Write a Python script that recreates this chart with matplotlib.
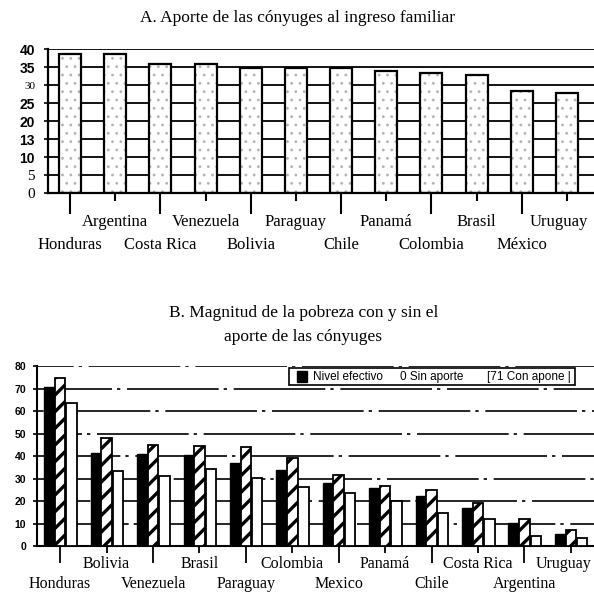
import numpy as np
import matplotlib.pyplot as plt
import matplotlib.transforms as mtransforms
from matplotlib.patches import Rectangle

# A. Aporte de las conyuges al ingreso familiar (%)
paises_a = ['Honduras', 'Argentina', 'Costa Rica', 'Venezuela', 'Bolivia', 'Paraguay',
            'Chile', 'Panamá', 'Colombia', 'Brasil', 'México', 'Uruguay']
aporte = [38.6, 38.6, 35.8, 35.8, 34.7, 34.8, 34.8, 34.0, 33.5, 32.7, 28.3, 27.9]
yticks_a = ['0', '5', '10', '13', '20', '25', '30', '35', '40']

# B. Magnitud de la pobreza con y sin el aporte de las conyuges
paises_b = ['Honduras', 'Bolivia', 'Venezuela', 'Brasil', 'Paraguay', 'Colombia',
            'Mexico', 'Panamá', 'Chile', 'Costa Rica', 'Argentina', 'Uruguay']
nivel_efectivo = [70.7, 41.3, 40.9, 40.4, 37.0, 33.8, 28.1, 25.6, 22.2, 17.0, 10.1, 5.2]
rayada = [74.7, 48.0, 44.9, 44.4, 43.9, 39.0, 31.6, 26.7, 24.9, 19.3, 12.0, 7.1]
blanca = [63.6, 33.5, 31.3, 34.2, 30.1, 26.4, 23.4, 20.0, 14.8, 12.0, 4.6, 3.4]
leyenda = ['Nivel efectivo', '0 Sin aporte', '[71 Con apone |']

serif = 'Liberation Serif'
sans = 'Liberation Sans'

fig = plt.figure(figsize=(5.94, 5.92), dpi=100)


def shift_left(label, pts):
    # the scan puts the last label a little left of its tick
    label.set_transform(label.get_transform() +
                        mtransforms.ScaledTranslation(-pts / 72, 0, fig.dpi_scale_trans))


# ---------------- chart A ----------------
axA = fig.add_axes([0.080, 0.674, 0.92, 0.243])
xa = np.arange(len(paises_a))
with plt.rc_context({'hatch.linewidth': 0.8}):
    axA.bar(xa, aporte, 0.49, color='white', edgecolor='0.7', hatch='..',
            linewidth=0, zorder=2)
axA.bar(xa, aporte, 0.49, fill=False, edgecolor='black', linewidth=1.6, zorder=3)
for y in range(5, 41, 5):
    axA.axhline(y, color='black', lw=1.3, zorder=1)
axA.set_xlim(-0.5, 11.6)
axA.set_ylim(0, 40)
axA.set_yticks(range(0, 41, 5))
axA.set_yticklabels(yticks_a)
for lab in axA.get_yticklabels():
    if lab.get_text() in ('0', '5', '30'):
        lab.set_fontfamily(serif)
        lab.set_fontsize(11 if lab.get_text() != '30' else 8)
    else:
        lab.set_fontfamily(sans)
        lab.set_fontweight('bold')
        lab.set_fontsize(10)
axA.tick_params(axis='y', length=3, width=1.2, pad=6)

axA.set_xticks(xa[::2])
axA.set_xticklabels(paises_a[::2], fontfamily=serif, fontsize=12)
axA.set_xticks(xa[1::2], minor=True)
axA.set_xticklabels(paises_a[1::2], minor=True, fontfamily=serif, fontsize=12)
axA.tick_params(axis='x', which='major', length=15, width=1.5, pad=17)
axA.tick_params(axis='x', which='minor', length=6, width=1.5, pad=9)
shift_left(axA.get_xticklabels(minor=True)[-1], 6)
for s in ['top', 'right']:
    axA.spines[s].set_visible(False)
for s in ['left', 'bottom']:
    axA.spines[s].set_linewidth(1.6)

fig.text(0.5, 0.970, 'A. Aporte de las cónyuges al ingreso familiar',
         ha='center', va='center', fontfamily=serif, fontsize=12.5)

# ---------------- chart B ----------------
axB = fig.add_axes([0.0623, 0.0777, 0.9377, 0.304])
xb = np.arange(len(paises_b))
w = 0.225
axB.bar(xb - 0.23, nivel_efectivo, w, color='black', edgecolor='black', lw=1, zorder=3)
with plt.rc_context({'hatch.linewidth': 2.4}):
    axB.bar(xb, rayada, w, color='white', edgecolor='black', hatch='//', lw=1.3, zorder=3)
axB.bar(xb + 0.245, blanca, w, color='white', edgecolor='black', lw=1.3, zorder=3)
for i, y in enumerate(range(10, 81, 10)):
    axB.axhline(y, color='black', lw=1.2, ls=(i * 23, (55, 3, 2, 4)), zorder=1)
axB.set_xlim(-0.5, 11.5)
axB.set_ylim(0, 80)
axB.set_yticks(range(0, 81, 10))
axB.set_yticklabels([str(v) for v in range(0, 81, 10)], fontfamily=sans,
                    fontweight='bold', fontsize=7.5)
axB.tick_params(axis='y', length=3, width=1.2, pad=5)

axB.set_xticks(xb[::2])
axB.set_xticklabels(paises_b[::2], fontfamily=serif, fontsize=11.5)
axB.set_xticks(xb[1::2], minor=True)
axB.set_xticklabels(paises_b[1::2], minor=True, fontfamily=serif, fontsize=11.5)
axB.tick_params(axis='x', which='major', length=12, width=1.3, pad=9.5)
axB.tick_params(axis='x', which='minor', length=5, width=1.3, pad=2)
shift_left(axB.get_xticklabels(minor=True)[-1], 5)
for s in ['top', 'right']:
    axB.spines[s].set_visible(False)
for s in ['left', 'bottom']:
    axB.spines[s].set_linewidth(1.5)

# legend box drawn as in the scan
axB.add_patch(Rectangle((0.452, 0.894), 0.514, 0.095, transform=axB.transAxes,
                        facecolor='white', edgecolor='black', lw=1.2, zorder=4))
axB.add_patch(Rectangle((0.466, 0.912), 0.018, 0.06, transform=axB.transAxes,
                        facecolor='black', edgecolor='black', zorder=5))
for xt, txt in zip([0.495, 0.652, 0.807], leyenda):
    axB.text(xt, 0.94, txt, transform=axB.transAxes, ha='left', va='center',
             fontfamily=sans, fontsize=8.5, zorder=5)

fig.text(0.512, 0.471, 'B. Magnitud de la pobreza con y sin el',
         ha='center', va='center', fontfamily=serif, fontsize=12.5)
fig.text(0.51, 0.431, 'aporte de las cónyuges',
         ha='center', va='center', fontfamily=serif, fontsize=12.5)

fig.savefig('out.png', dpi=100)
